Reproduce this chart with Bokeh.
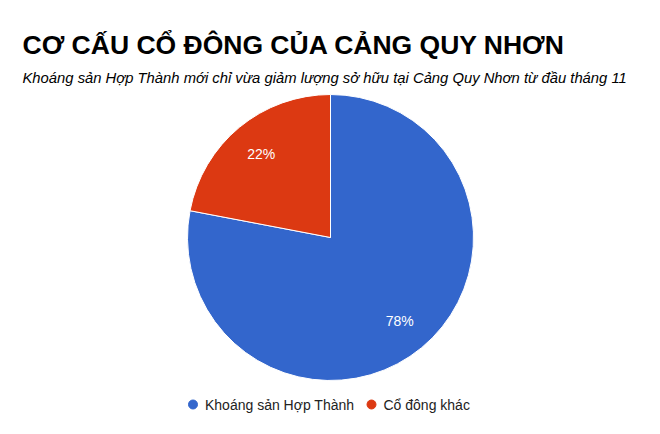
import numpy as np
from bokeh.plotting import figure
from bokeh.models import Range1d, ColumnDataSource
from bokeh.core.properties import value
from bokeh.embed import file_html
from bokeh.resources import INLINE

# ---- data ----
title = "CƠ CẤU CỔ ĐÔNG CỦA CẢNG QUY NHƠN"
subtitle = "Khoáng sản Hợp Thành mới chỉ vừa giảm lượng sở hữu tại Cảng Quy Nhơn từ đầu tháng 11"
categories = ["Khoáng sản Hợp Thành", "Cổ đông khác"]
shares = [78, 22]
colors = ["#3366CC", "#DC3912"]

FONT = "Liberation Sans"
W, H = 644, 418
PAGE_H = 434

p = figure(width=W, height=H, x_range=Range1d(0, W), y_range=Range1d(PAGE_H - H, PAGE_H),
           output_backend="svg", toolbar_location=None, x_axis_type=None, y_axis_type=None,
           min_border=0, tools="")
p.grid.visible = False
p.outline_line_color = None
p.background_fill_color = "white"
p.border_fill_color = "white"

def sy(y):
    return PAGE_H - y

# ---- pie (clockwise from 12 o'clock) ----
cx, cy, r = 330, sy(237), 143
vals = np.array(shares, dtype=float)
frac = vals / vals.sum()
cum = np.concatenate([[0], np.cumsum(frac)])
start = np.pi / 2 - 2 * np.pi * cum[1:]
end = np.pi / 2 - 2 * np.pi * cum[:-1]
src = ColumnDataSource(dict(start=start, end=end, color=colors))
p.wedge(x=cx, y=cy, radius=r, start_angle="start", end_angle="end", fill_color="color",
        line_color="white", line_width=1, source=src)

mid = (start + end) / 2
lab_r = 0.76 * r
lsrc = ColumnDataSource(dict(x=cx + lab_r * np.cos(mid), y=cy + lab_r * np.sin(mid),
                             t=[f"{int(v)}%" for v in vals]))
p.text(x="x", y="y", text="t", source=lsrc, text_color="white", text_font=value(FONT),
       text_font_size="14px", text_align="center", text_baseline="middle")

# ---- titles ----
p.text(x=[22], y=[sy(44.5)], text=[title], text_font=value(FONT), text_font_size="26.5px",
       text_font_style="bold", text_color="#000000", text_baseline="alphabetic")
p.text(x=[22], y=[sy(77)], text=[subtitle], text_font=value(FONT), text_font_size="14.8px",
       text_font_style="italic", text_color="#000000", text_baseline="alphabetic")

# ---- legend ----
leg_dot_x = [192.5, 371]
leg_y = sy(404)
p.scatter(x=leg_dot_x, y=[leg_y] * 2, size=9, color=colors, marker="circle")
p.text(x=[x + 12 for x in leg_dot_x], y=[leg_y] * 2, text=categories, text_font=value(FONT),
       text_font_size="14px", text_color="#222222", text_baseline="middle")

open("out.html", "w").write(file_html(p, INLINE))
